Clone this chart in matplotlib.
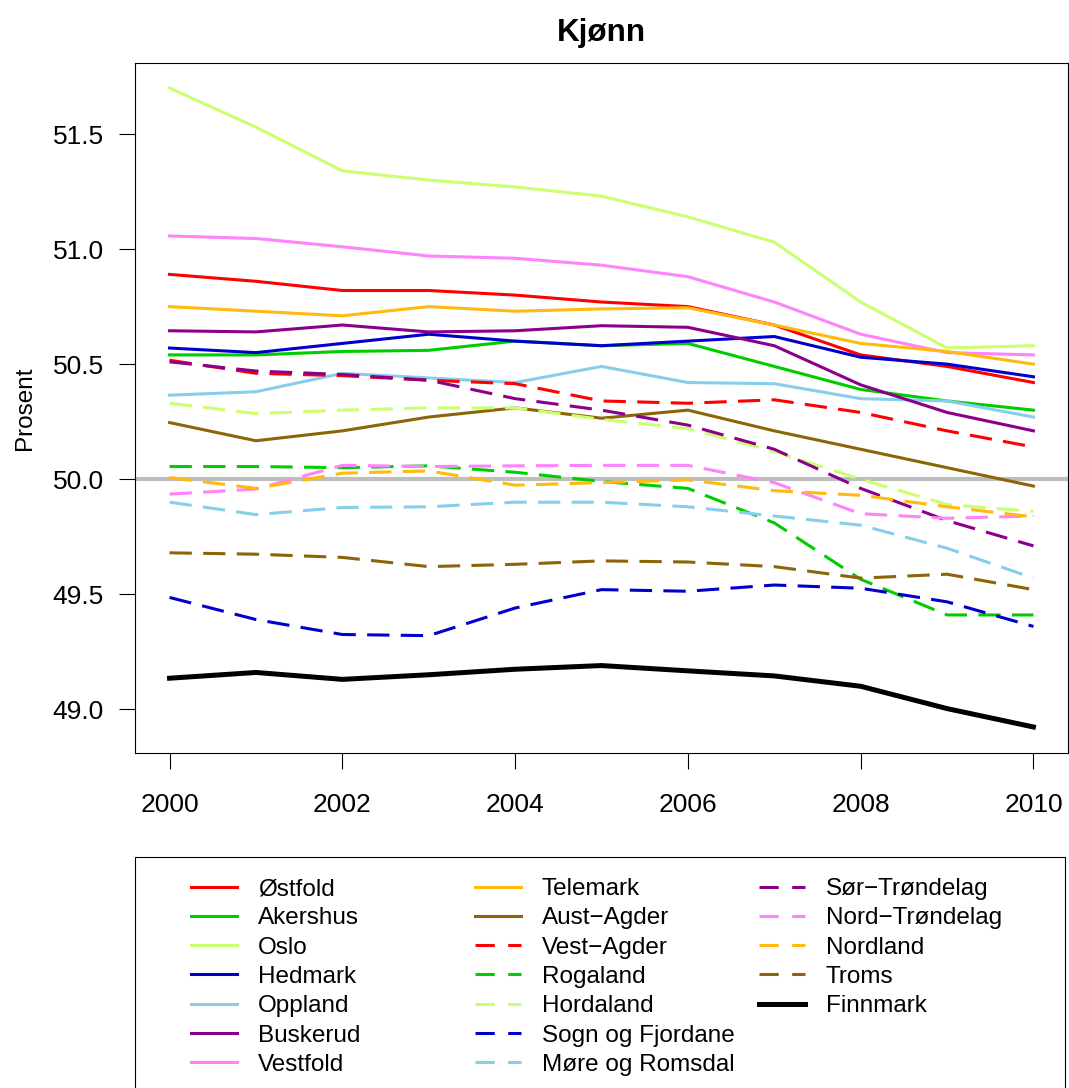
import matplotlib.pyplot as plt
from matplotlib.patches import Rectangle
from matplotlib.lines import Line2D

plt.rcParams['font.family'] = ['Liberation Sans', 'DejaVu Sans']

years = [2000, 2001, 2002, 2003, 2004, 2005, 2006, 2007, 2008, 2009, 2010]

counties = ['Østfold', 'Akershus', 'Oslo', 'Hedmark', 'Oppland', 'Buskerud', 'Vestfold',
            'Telemark', 'Aust\u2212Agder', 'Vest\u2212Agder', 'Rogaland', 'Hordaland',
            'Sogn og Fjordane', 'Møre og Romsdal', 'Sør\u2212Trøndelag', 'Nord\u2212Trøndelag',
            'Nordland', 'Troms', 'Finnmark']

ostfold = [50.89, 50.86, 50.82, 50.82, 50.80, 50.77, 50.75, 50.67, 50.54, 50.49, 50.42]
akershus = [50.54, 50.54, 50.555, 50.56, 50.60, 50.58, 50.59, 50.49, 50.39, 50.34, 50.30]
oslo = [51.70, 51.53, 51.34, 51.30, 51.27, 51.23, 51.14, 51.03, 50.77, 50.57, 50.58]
hedmark = [50.57, 50.55, 50.59, 50.63, 50.60, 50.58, 50.60, 50.62, 50.53, 50.50, 50.445]
oppland = [50.365, 50.38, 50.46, 50.44, 50.42, 50.49, 50.42, 50.415, 50.35, 50.34, 50.27]
buskerud = [50.645, 50.64, 50.67, 50.64, 50.645, 50.667, 50.66, 50.58, 50.41, 50.29, 50.21]
vestfold = [51.057, 51.046, 51.01, 50.97, 50.96, 50.93, 50.88, 50.77, 50.63, 50.55, 50.54]
telemark = [50.75, 50.73, 50.71, 50.75, 50.73, 50.74, 50.745, 50.67, 50.59, 50.555, 50.50]
aust_agder = [50.246, 50.167, 50.21, 50.27, 50.31, 50.265, 50.30, 50.21, 50.13, 50.05, 49.97]
vest_agder = [50.517, 50.46, 50.45, 50.43, 50.415, 50.34, 50.33, 50.345, 50.29, 50.21, 50.14]
rogaland = [50.055, 50.055, 50.05, 50.058, 50.03, 49.99, 49.96, 49.81, 49.565, 49.41, 49.41]
hordaland = [50.33, 50.285, 50.30, 50.31, 50.31, 50.26, 50.22, 50.12, 50.00, 49.89, 49.86]
sogn_fjordane = [49.486, 49.39, 49.325, 49.32, 49.44, 49.52, 49.513, 49.54, 49.526, 49.467, 49.36]
more_romsdal = [49.90, 49.846, 49.877, 49.88, 49.90, 49.90, 49.88, 49.84, 49.80, 49.70, 49.57]
sor_trondelag = [50.51, 50.47, 50.455, 50.43, 50.35, 50.30, 50.235, 50.13, 49.96, 49.82, 49.71]
nord_trondelag = [49.935, 49.957, 50.06, 50.055, 50.058, 50.06, 50.06, 49.985, 49.85, 49.83, 49.84]
nordland = [50.007, 49.96, 50.026, 50.036, 49.974, 49.985, 49.997, 49.95, 49.93, 49.88, 49.836]
troms = [49.68, 49.674, 49.66, 49.62, 49.63, 49.645, 49.64, 49.62, 49.57, 49.587, 49.52]
finnmark = [49.135, 49.16, 49.13, 49.15, 49.174, 49.19, 49.167, 49.145, 49.10, 49.003, 48.923]

series = [ostfold, akershus, oslo, hedmark, oppland, buskerud, vestfold, telemark, aust_agder,
          vest_agder, rogaland, hordaland, sogn_fjordane, more_romsdal, sor_trondelag,
          nord_trondelag, nordland, troms, finnmark]

palette = ['#FF0000', '#00CD00', '#CAFF70', '#0000CD', '#87CEEB', '#8B008B', '#FF83FA',
           '#FFB90F', '#8B6508']
colors = palette + palette + ['#000000']
styles = ['-'] * 9 + ['--'] * 9 + ['-']
widths = [2.2] * 18 + [3.6]

W, H = 1069, 1088
fig = plt.figure(figsize=(W / 100, H / 100), dpi=100)
ax = fig.add_axes([135 / W, 1 - 753 / H, (1068 - 135) / W, (753 - 62.7) / H])

# reference line at 50 %
ax.axhline(50.0, color='#BEBEBE', lw=3.0, zorder=1)
for vals, c, ls, lw in zip(series, colors, styles, widths):
    line, = ax.plot(years, vals, color=c, lw=lw, zorder=2)
    if ls == '--':
        line.set_dashes((7.3, 3.7))

ax.set_xlim(1999.6, 2010.4)
ax.set_ylim(48.81, 51.81)
ax.set_xticks([2000, 2002, 2004, 2006, 2008, 2010])
ax.set_yticks([49.0, 49.5, 50.0, 50.5, 51.0, 51.5])
ax.set_yticklabels([f'{v:.1f}' for v in ax.get_yticks()])
ax.tick_params(axis='both', labelsize=19, length=11.5, width=0.8, direction='out')
ax.tick_params(axis='y', pad=11)
ax.tick_params(axis='x', pad=17.5)
for s in ax.spines.values():
    s.set_linewidth(0.8)

ax.set_ylabel('Prosent', fontsize=17.5, labelpad=12)
fig.text((135 + 1068) / 2 / W, 1 - 41 / H, 'Kjønn', ha='center', va='baseline',
         fontsize=22.6, fontweight='bold')

# legend: three equal-width columns like R's legend(ncol=3)
fig.add_artist(Rectangle((135 / W, -0.02), (1065 - 135) / W, (1088 - 857) / H + 0.02,
                         transform=fig.transFigure, fill=False, lw=0.8, ec='black'))
col_x = [191, 475, 759]
groups = [range(0, 7), range(7, 14), range(14, 19)]
for x0, idx in zip(col_x, groups):
    proxies = []
    for i in idx:
        p = Line2D([], [], color=colors[i], lw=widths[i])
        if styles[i] == '--':
            p.set_dashes((6.3, 4.4))
        proxies.append(p)
    fig.legend(proxies, [counties[i] for i in idx],
               loc='upper left', bbox_to_anchor=(x0 / W, 1 - 878 / H),
               frameon=False, fontsize=17.5, handlelength=1.9, handletextpad=0.85,
               borderpad=0, borderaxespad=0, labelspacing=0.3)

fig.savefig('out.png', dpi=100)
